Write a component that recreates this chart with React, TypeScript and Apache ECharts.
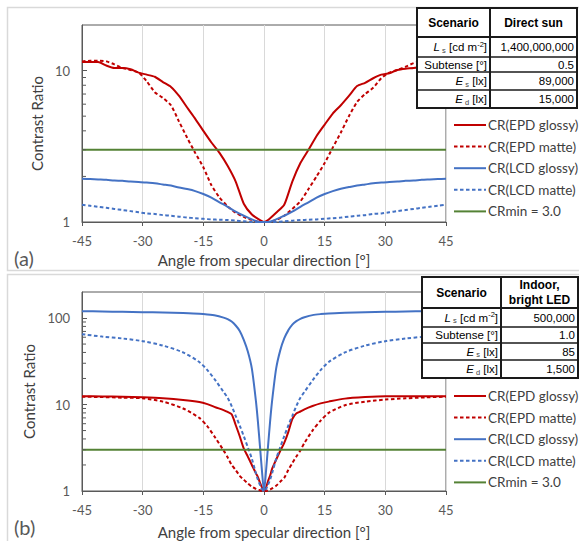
import React, { useEffect, useRef } from 'react';
import * as echarts from 'echarts';

// ---------- data ----------
const seriesNames = ['CR(EPD glossy)', 'CR(EPD matte)', 'CR(LCD glossy)', 'CR(LCD matte)', 'CRmin = 3.0'];
const crMin = 3.0;
const xRange = [-45, 45];

// Panel (a): Direct sun
const anglesA = [-45, -43, -41, -39, -37, -35, -33, -31, -29, -27, -25, -23, -21, -19, -17, -15, -13, -11, -9, -7, -5, -3, -1, 0,
  1, 3, 5, 7, 9, 11, 13, 15, 17, 19, 21, 23, 25, 27, 29, 31, 33, 35, 37, 39, 41, 43, 45];
const epdGlossyA = [11.4, 11.4, 11.4, 10.8, 10.4, 10.4, 10.2, 9.7, 9.4, 9.1, 8.4, 7.8, 6.8, 5.7, 4.8, 4.0, 3.35, 2.86, 2.35, 1.85, 1.32, 1.12, 1.03, 1.0,
  1.03, 1.15, 1.3, 1.85, 2.45, 3.0, 3.7, 4.4, 5.2, 5.9, 6.8, 7.9, 8.3, 8.9, 9.4, 9.6, 10.1, 10.3, 10.4, 10.6, 11.0, 11.3, 11.4];
const epdMatteA = [11.5, 11.6, 11.6, 11.5, 11.0, 10.4, 10.1, 9.7, 8.5, 7.2, 6.6, 5.9, 4.6, 3.6, 2.86, 2.3, 1.75, 1.45, 1.27, 1.15, 1.08, 1.03, 1.0, 1.0,
  1.0, 1.03, 1.1, 1.22, 1.37, 1.65, 2.0, 2.45, 3.1, 3.9, 5.0, 6.2, 7.0, 7.7, 8.9, 9.7, 10.1, 10.6, 11.2, 11.5, 11.6, 11.6, 11.5];
const lcdGlossyA = [1.93, 1.92, 1.91, 1.9, 1.88, 1.87, 1.85, 1.84, 1.82, 1.8, 1.77, 1.74, 1.69, 1.65, 1.6, 1.53, 1.45, 1.35, 1.26, 1.17, 1.1, 1.04, 1.0, 1.0,
  1.0, 1.04, 1.1, 1.17, 1.26, 1.35, 1.45, 1.53, 1.6, 1.66, 1.7, 1.74, 1.77, 1.8, 1.82, 1.84, 1.85, 1.87, 1.88, 1.9, 1.91, 1.92, 1.93];
const lcdMatteA = [1.3, 1.28, 1.26, 1.24, 1.22, 1.2, 1.18, 1.16, 1.14, 1.13, 1.11, 1.1, 1.085, 1.07, 1.06, 1.05, 1.04, 1.035, 1.03, 1.02, 1.01, 1.0, 1.0, 1.0,
  1.0, 1.0, 1.01, 1.02, 1.03, 1.035, 1.04, 1.05, 1.06, 1.07, 1.085, 1.1, 1.11, 1.13, 1.14, 1.16, 1.18, 1.2, 1.22, 1.24, 1.26, 1.28, 1.3];

// Panel (b): Indoor, bright LED
const anglesB = [-45, -40, -35, -30, -25, -20, -16, -14, -12, -10, -9, -8, -7, -6, -5, -4, -3, -2, -1.5, -1, -0.5, 0,
  0.5, 1, 1.5, 2, 3, 4, 5, 6, 7, 8, 9, 10, 12, 14, 16, 20, 25, 30, 35, 40, 45];
const epdGlossyB = [12.5, 12.4, 12.3, 12.1, 11.8, 11.3, 10.7, 10.1, 9.3, 8.6, 8.2, 7.7, 5.8, 4.3, 3.1, 2.5, 2.0, 1.6, 1.45, 1.25, 1.1, 1.0,
  1.1, 1.3, 1.5, 1.8, 2.3, 2.9, 3.6, 4.8, 6.8, 7.9, 8.3, 8.8, 9.6, 10.3, 10.8, 11.7, 12.2, 12.5, 12.5, 12.5, 12.5];
const epdMatteB = [12.3, 12.2, 12.0, 11.8, 10.8, 9.0, 7.0, 5.6, 4.1, 2.95, 2.45, 2.0, 1.75, 1.5, 1.35, 1.22, 1.12, 1.06, 1.04, 1.02, 1.0, 1.0,
  1.0, 1.02, 1.04, 1.07, 1.15, 1.28, 1.42, 1.75, 2.1, 2.5, 2.95, 3.6, 5.0, 6.5, 8.0, 9.8, 10.8, 11.4, 11.8, 12.1, 12.3];
const lcdGlossyB = [120, 119, 118, 117, 116, 114, 112, 110, 107, 101, 97, 91, 82, 71, 56, 41, 26, 11, 6.3, 3.3, 1.7, 1.0,
  1.7, 3.3, 6.3, 11, 26, 42, 58, 72, 84, 92, 98, 102, 108, 111, 113, 115, 117, 118, 119, 120, 121];
const lcdMatteB = [65, 61, 58, 54, 48, 40, 31, 25, 19, 14, 12, 9.6, 7.4, 5.7, 4.3, 3.2, 2.35, 1.6, 1.35, 1.18, 1.05, 1.0,
  1.05, 1.18, 1.35, 1.6, 2.35, 3.2, 4.3, 5.7, 7.4, 9.6, 12, 14, 19, 25, 31, 40, 48, 54, 58, 61, 64];

const minorTicksA = [2, 3, 4, 5, 6, 7, 8, 9];
const minorTicksB = [2, 3, 4, 5, 6, 7, 8, 9, 20, 30, 40, 50, 60, 70, 80, 90];

// tables
const tableHeadA = ['Scenario', 'Direct sun'];
const tableHeadB = ['Scenario', 'Indoor,\nbright LED'];
const paramLabels = ['{i|L}{s| s} [cd m{p|-2}]', 'Subtense [°]', '{i|E}{s| s} [lx]', '{i|E}{s| d} [lx]'];
const tableValuesA = ['1,400,000,000', '0.5', '89,000', '15,000'];
const tableValuesB = ['500,000', '1.0', '85', '1,500'];

// ---------- styling ----------
const RED = '#C00000';
const BLUE = '#4472C4';
const GREEN = '#548235';
const AXIS = '#595959';
const FONT = 'Lato';
const TFONT = '"Liberation Sans", Arial, sans-serif';

function lineSeries(name: string, angles: number[], vals: number[], idx: number, color: string, dashed: boolean, smooth: number) {
  return {
    type: 'line', name, xAxisIndex: idx, yAxisIndex: idx,
    data: angles.map((a, i) => [a, vals[i]]),
    showSymbol: false, symbol: 'none', smooth,
    lineStyle: { color, width: 2, type: dashed ? [3.5, 2.5] : 'solid' },
    itemStyle: { color },
    z: 3,
  };
}

function tickSeries(ticks: number[], idx: number) {
  return {
    type: 'custom', name: 'ticks' + idx, xAxisIndex: idx, yAxisIndex: idx, silent: true, clip: false, z: 4,
    data: ticks.map((v) => [xRange[0], v]),
    renderItem: (_p: any, api: any) => {
      const p = api.coord([api.value(0), api.value(1)]);
      return { type: 'line', shape: { x1: p[0], y1: p[1], x2: p[0] + 4, y2: p[1] }, style: { stroke: AXIS, lineWidth: 1 } };
    },
  };
}

function makeTable(L: number, R: number, C: number, T: number, rows: number[], head: string[], values: string[]) {
  const els: any[] = [];
  const B = rows[rows.length - 1];
  els.push({ type: 'rect', z: 100, shape: { x: L, y: T, width: R - L, height: B - T }, style: { fill: '#fff', stroke: '#1a1a1a', lineWidth: 2 } });
  els.push({ type: 'line', z: 101, shape: { x1: C, y1: T, x2: C, y2: B }, style: { stroke: '#1a1a1a', lineWidth: 2 } });
  rows.slice(0, -1).forEach((y, i) => {
    els.push({ type: 'line', z: 101, shape: { x1: L, y1: y, x2: R, y2: y }, style: { stroke: '#1a1a1a', lineWidth: i === 0 ? 2 : 1.5 } });
  });
  const hy = (T + rows[0]) / 2;
  els.push({ type: 'text', z: 102, x: (L + C) / 2, y: hy, style: { text: head[0], fill: '#000', font: `bold 12px ${TFONT}`, align: 'center', verticalAlign: 'middle' } });
  els.push({ type: 'text', z: 102, x: (C + R) / 2, y: hy, style: { text: head[1], fill: '#000', font: `bold 12px ${TFONT}`, align: 'center', verticalAlign: 'middle', lineHeight: 15 } });
  for (let i = 0; i < values.length; i++) {
    const cy = (rows[i] + rows[i + 1]) / 2;
    els.push({
      type: 'text', z: 102, x: C - 3, y: cy,
      style: {
        text: paramLabels[i], fill: '#000', fontSize: 11.5, fontFamily: TFONT, lineHeight: 14, align: 'right', verticalAlign: 'middle',
        rich: {
          i: { fontStyle: 'italic', fontSize: 11.5, fontFamily: TFONT, lineHeight: 14 },
          s: { fontSize: 7.5, fontFamily: TFONT, lineHeight: 9, verticalAlign: 'bottom', fill: '#444' },
          p: { fontSize: 7.5, fontFamily: TFONT, lineHeight: 9, verticalAlign: 'top' },
        },
      },
    });
    els.push({ type: 'text', z: 102, x: R - 3, y: cy, style: { text: values[i], fill: '#000', fontSize: 11.5, fontFamily: TFONT, align: 'right', verticalAlign: 'middle' } });
  }
  return els;
}

function yLabel(v: number) {
  const l = Math.log10(v);
  return Math.abs(l - Math.round(l)) < 1e-6 ? String(Math.round(v)) : '';
}

function xAxisCfg(idx: number, gap: number) {
  return {
    gridIndex: idx, type: 'value', min: xRange[0], max: xRange[1], interval: 15,
    axisLine: { show: true, onZero: false, lineStyle: { color: AXIS } },
    axisTick: { show: true, length: 4, lineStyle: { color: AXIS } },
    splitLine: { show: true, lineStyle: { color: '#d9d9d9', width: 1 } },
    axisLabel: { color: AXIS, fontSize: 13, fontFamily: FONT, margin: 12 },
    name: 'Angle from specular direction [°]', nameLocation: 'middle', nameGap: gap,
    nameTextStyle: { color: '#404040', fontSize: 15, fontFamily: FONT },
  };
}

function yAxisCfg(idx: number, max: number) {
  return {
    gridIndex: idx, type: 'log', logBase: 10, min: 1, max,
    axisLine: { show: true, onZero: false, lineStyle: { color: AXIS } },
    axisTick: { show: true, inside: true, length: 5, lineStyle: { color: AXIS } },
    splitLine: { show: false },
    axisLabel: { color: AXIS, fontSize: 13, fontFamily: FONT, margin: 12, formatter: yLabel, showMaxLabel: false },
    name: 'Contrast Ratio', nameLocation: 'middle', nameGap: 32,
    nameTextStyle: { color: '#404040', fontSize: 15, fontFamily: FONT },
  };
}

function legendCfg(top: number) {
  return {
    data: seriesNames, orient: 'vertical', left: 453, top, padding: 0,
    itemWidth: 32, itemHeight: 14, itemGap: 7.6, selectedMode: false,
    itemStyle: { opacity: 0 },
    textStyle: { color: '#404040', fontSize: 13.5, fontFamily: FONT, padding: [0, 0, 0, -3] },
  };
}

export default function App() {
  const ref = useRef<HTMLDivElement>(null);
  useEffect(() => {
    if (!ref.current) return;
    const chart = echarts.init(ref.current, null, { renderer: 'svg' });
    const option: any = {
      animation: false,
      backgroundColor: '#fff',
      grid: [
        { left: 82, top: 25, width: 364, height: 197, show: true, borderColor: AXIS, borderWidth: 1, backgroundColor: 'transparent' },
        { left: 82, top: 292, width: 364, height: 199, show: true, borderColor: AXIS, borderWidth: 1, backgroundColor: 'transparent' },
      ],
      xAxis: [xAxisCfg(0, 30), xAxisCfg(1, 33)],
      yAxis: [yAxisCfg(0, 20), yAxisCfg(1, 200)],
      legend: [legendCfg(118), legendCfg(389)],
      series: [
        lineSeries(seriesNames[0], anglesA, epdGlossyA, 0, RED, false, 0.2),
        lineSeries(seriesNames[1], anglesA, epdMatteA, 0, RED, true, 0.2),
        lineSeries(seriesNames[2], anglesA, lcdGlossyA, 0, BLUE, false, 0.3),
        lineSeries(seriesNames[3], anglesA, lcdMatteA, 0, BLUE, true, 0.3),
        lineSeries(seriesNames[4], xRange, [crMin, crMin], 0, GREEN, false, 0),
        tickSeries(minorTicksA, 0),
        lineSeries(seriesNames[0], anglesB, epdGlossyB, 1, RED, false, 0.25),
        lineSeries(seriesNames[1], anglesB, epdMatteB, 1, RED, true, 0.25),
        lineSeries(seriesNames[2], anglesB, lcdGlossyB, 1, BLUE, false, 0.25),
        lineSeries(seriesNames[3], anglesB, lcdMatteB, 1, BLUE, true, 0.3),
        lineSeries(seriesNames[4], xRange, [crMin, crMin], 1, GREEN, false, 0),
        tickSeries(minorTicksB, 1),
      ],
      graphic: [
        { type: 'rect', z: 0, shape: { x: 7.5, y: 7.5, width: 620, height: 263 }, style: { fill: 'none', stroke: '#d9d9d9', lineWidth: 1.5 } },
        { type: 'rect', z: 0, shape: { x: 7.5, y: 274.5, width: 620, height: 300 }, style: { fill: 'none', stroke: '#d9d9d9', lineWidth: 1.5 } },
        { type: 'text', x: 14, y: 258, style: { text: '(a)', fill: AXIS, fontSize: 20, fontFamily: FONT, verticalAlign: 'middle' } },
        { type: 'text', x: 14, y: 527, style: { text: '(b)', fill: AXIS, fontSize: 20, fontFamily: FONT, verticalAlign: 'middle' } },
        ...makeTable(417, 577, 490, 8, [37, 57, 72, 90, 108], tableHeadA, tableValuesA),
        ...makeTable(422, 578, 501, 277, [308, 327, 343, 360, 378], tableHeadB, tableValuesB),
      ],
    };
    chart.setOption(option);
    return () => chart.dispose();
  }, []);
  return <div ref={ref} style={{ position: 'fixed', left: 0, top: 0, width: 579, height: 541, background: '#fff' }} />;
}
